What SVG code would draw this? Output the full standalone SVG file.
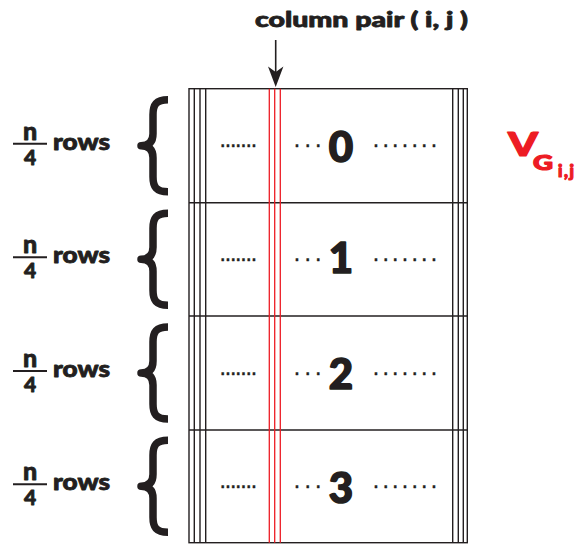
<svg xmlns="http://www.w3.org/2000/svg" width="582" height="544" viewBox="0 0 582 544">
<defs>
<style>
text{font-family:"Lato","Open Sans","Liberation Sans",sans-serif;font-weight:900;fill:#231f20;stroke:#231f20;stroke-width:0.8;stroke-linejoin:round}
.grid{stroke:#231f20;stroke-width:1.4;fill:none}
.red{stroke:#ed1c24;stroke-width:1.3;fill:none}
.brace{stroke:#231f20;stroke-width:7.5;fill:none;stroke-linejoin:round}
.frac{stroke:#231f20;stroke-width:2}
.dots{font-family:"Liberation Sans",sans-serif;font-weight:bold;font-size:16px;stroke-width:0.3}
.dig{font-size:42px;text-anchor:middle;stroke-width:1.6}
.vg{fill:#ed1c24;stroke:#ed1c24;stroke-width:1.2}
</style>
<path id="brace" d="M168 -46 C156 -46 153 -41 153 -31 L153 -12 C153 -4 149 0 141 0 C149 0 153 4 153 12 L153 31 C153 41 156 46 168 46"/>
<g id="label">
<text x="30" y="-6" font-size="25" text-anchor="middle">n</text>
<line class="frac" x1="13" y1="-2" x2="47" y2="-2"/>
<text x="30" y="19" font-size="21" text-anchor="middle">4</text>
<text x="53" y="4" font-size="22" textLength="57" lengthAdjust="spacingAndGlyphs">rows</text>
</g>
</defs>

<g id="title">
<text x="255" y="27" font-size="20" textLength="213" lengthAdjust="spacingAndGlyphs">column pair ( i, j )</text>
</g>

<g id="connectors">
<line x1="275.7" y1="40" x2="275.7" y2="73" stroke="#231f20" stroke-width="1.6"/>
<polygon points="275.7,87 268,66.5 275.7,72 283.4,66.5" fill="#231f20"/>
</g>

<g id="matrix">
<rect class="grid" x="189" y="88.7" width="278.3" height="454"/>
<line class="grid" x1="189" y1="202.7" x2="467.3" y2="202.7"/>
<line class="grid" x1="189" y1="316" x2="467.3" y2="316"/>
<line class="grid" x1="189" y1="430" x2="467.3" y2="430"/>
<line class="grid" x1="194.3" y1="88.7" x2="194.3" y2="542.7"/>
<line class="grid" x1="200" y1="88.7" x2="200" y2="542.7"/>
<line class="grid" x1="205.7" y1="88.7" x2="205.7" y2="542.7"/>
<line class="grid" x1="452.7" y1="88.7" x2="452.7" y2="542.7"/>
<line class="grid" x1="458.3" y1="88.7" x2="458.3" y2="542.7"/>
<line class="grid" x1="463.3" y1="88.7" x2="463.3" y2="542.7"/>
<line class="red" x1="269.3" y1="88.7" x2="269.3" y2="542.7"/>
<line class="red" x1="274.7" y1="88.7" x2="274.7" y2="542.7"/>
<line class="red" x1="280.3" y1="88.7" x2="280.3" y2="542.7"/>
</g>

<g id="row0">
<use href="#brace" class="brace" transform="translate(0,145.7)"/>
<use href="#label" transform="translate(0,145.7)"/>
<text class="dots" x="220.5" y="147.2" letter-spacing="0.75">.......</text>
<text class="dots" x="294.8" y="147.2" letter-spacing="6.2">...</text>
<text class="dig" x="341" y="161.5">0</text>
<text class="dots" x="373.8" y="147.2" letter-spacing="5.2">.......</text>
</g>

<g id="row1">
<use href="#brace" class="brace" transform="translate(0,259.3)"/>
<use href="#label" transform="translate(0,259.3)"/>
<text class="dots" x="220.5" y="260.8" letter-spacing="0.75">.......</text>
<text class="dots" x="294.8" y="260.8" letter-spacing="6.2">...</text>
<text class="dig" x="341" y="273">1</text>
<text class="dots" x="373.8" y="260.8" letter-spacing="5.2">.......</text>
</g>

<g id="row2">
<use href="#brace" class="brace" transform="translate(0,373)"/>
<use href="#label" transform="translate(0,373)"/>
<text class="dots" x="220.5" y="374.5" letter-spacing="0.75">.......</text>
<text class="dots" x="294.8" y="374.5" letter-spacing="6.2">...</text>
<text class="dig" x="341" y="388.5">2</text>
<text class="dots" x="373.8" y="374.5" letter-spacing="5.2">.......</text>
</g>

<g id="row3">
<use href="#brace" class="brace" transform="translate(0,486.3)"/>
<use href="#label" transform="translate(0,486.3)"/>
<text class="dots" x="220.5" y="487.8" letter-spacing="0.75">.......</text>
<text class="dots" x="294.8" y="487.8" letter-spacing="6.2">...</text>
<text class="dig" x="341" y="502.5">3</text>
<text class="dots" x="373.8" y="487.8" letter-spacing="5.2">.......</text>
</g>

<g id="vg">
<text class="vg" x="508" y="156" font-size="32" textLength="30" lengthAdjust="spacingAndGlyphs">V</text>
<text class="vg" x="533" y="170" font-size="20" textLength="20" lengthAdjust="spacingAndGlyphs">G</text>
<text class="vg" x="558" y="177" font-size="17" stroke-width="0.8" letter-spacing="1.5">i,j</text>
</g>
</svg>
